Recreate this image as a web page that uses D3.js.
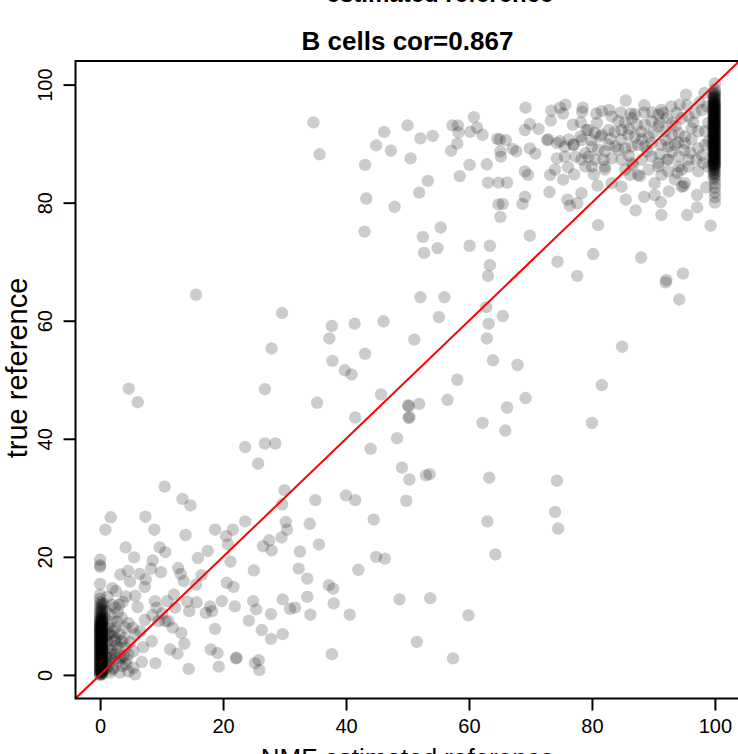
<!DOCTYPE html>
<html>
<head>
<meta charset="utf-8">
<script src="https://cdn.jsdelivr.net/npm/d3@7"></script>
<style>
  body { margin: 0; background: #fff; }
  svg { display: block; font-family: "Liberation Sans", Arial, Helvetica, sans-serif; }
</style>
</head>
<body>
<div id="chart"></div>
<script>
// tick labels
const xTicks = [0, 20, 40, 60, 80, 100];
const yTicks = [0, 20, 40, 60, 80, 100];

// samples where NMF estimated 0 (true value on y)
const zeroColumnY = [0, 0.1, 0.25, 0.4, 0.55, 0.7, 0.85, 1.0, 1.15, 1.3, 1.45, 1.6, 1.75, 1.9, 2.05, 2.2,
  2.35, 2.5, 2.65, 2.8, 2.95, 3.1, 3.25, 3.4, 3.55, 3.7, 3.85, 4.0, 4.15, 4.3, 4.45, 4.6, 4.75, 4.9,
  5.05, 5.2, 5.35, 5.5, 5.65, 5.8, 5.95, 6.1, 6.25, 6.4, 6.55, 6.7, 6.85, 7.0, 7.15, 7.3, 7.45, 7.6,
  7.75, 7.9, 8.05, 8.2, 8.35, 8.5, 8.7, 8.9, 9.1, 9.3, 9.5, 9.8, 10.1, 10.5, 10.9, 11.3, 11.8, 12.3,
  12.9, 13.6, 15.4, 18.3, 18.6, 19.5];
// estimated just above 0
const nearZeroColumnY = [0.05, 0.18, 0.32, 0.48, 0.62, 0.78, 0.92, 1.08, 1.22, 1.38, 1.52, 1.68, 1.82,
  1.98, 2.12, 2.28, 2.42, 2.58, 2.72, 2.88, 3.02, 3.18, 3.32, 3.48, 3.62, 3.78, 3.92, 4.08, 4.22, 4.38,
  4.52, 4.68, 4.82, 4.98, 5.12, 5.28, 5.42, 5.58, 5.72, 5.88, 6.02, 6.18, 6.32, 6.48, 6.62, 6.78, 6.92,
  7.08, 7.22, 7.38, 7.52, 7.68, 7.82, 7.98, 8.12, 8.28, 8.42, 8.6, 8.8, 9.0, 9.2, 9.4, 9.65, 9.95, 10.3,
  10.7, 11.1, 11.6, 12.1];

// samples where NMF estimated 100
const hundredColumnY = [80.0, 80.9, 81.7, 82.5, 83.2, 83.9, 84.5, 85.0, 85.5, 85.9, 86.2, 86.4, 86.6,
  86.8, 87.0, 87.2, 87.4, 87.6, 87.8, 88.0, 88.2, 88.4, 88.6, 88.8, 89.0, 89.2, 89.4, 89.6, 89.8, 90.0,
  90.2, 90.4, 90.6, 90.8, 91.0, 91.2, 91.4, 91.6, 91.8, 92.0, 92.2, 92.4, 92.6, 92.8, 93.0, 93.2, 93.4,
  93.6, 93.8, 94.0, 94.2, 94.4, 94.6, 94.8, 95.0, 95.2, 95.4, 95.6, 95.8, 96.0, 96.2, 96.4, 96.6, 96.8,
  97.0, 97.3, 97.6, 97.9, 98.2, 98.5, 98.8, 99.2];
// estimated just below 100
const nearHundredColumnY = [84.2, 84.8, 85.3, 85.7, 86.1, 86.3, 86.5, 86.7, 86.9, 87.1, 87.3, 87.5,
  87.7, 87.9, 88.1, 88.3, 88.5, 88.7, 88.9, 89.1, 89.3, 89.5, 89.7, 89.9, 90.1, 90.3, 90.5, 90.7, 90.9,
  91.1, 91.3, 91.5, 91.7, 91.9, 92.1, 92.3, 92.5, 92.7, 92.9, 93.1, 93.3, 93.5, 93.7, 93.9, 94.1, 94.3,
  94.5, 94.7, 94.9, 95.1, 95.3, 95.5, 95.7, 95.9, 96.1, 96.3, 96.5, 96.7, 96.9, 97.1, 97.4, 97.7, 98.0,
  98.4];

// low values [estimated, true]
const lowPoints = [[4.66,48.5],[6.12,46.2],[26.8,48.4],[23.6,38.6],[26.8,39.2],[28.5,39.2],[25.7,35.8],
  [10.5,31.9],[13.4,29.8],[14.7,28.7],[30.0,31.3],[29.6,28.9],[30.2,25.9],[30.4,24.6],[29.5,23.3],
  [23.6,26.0],[27.5,22.8],[26.5,21.8],[27.9,21.1],[1.73,26.7],[0.86,24.6],[7.37,26.8],[8.83,24.6],
  [13.9,23.7],[18.7,24.6],[20.5,23.5],[21.6,24.6],[20.8,22.1],[17.5,21.0],[15.9,19.8],[21.2,19.2],
  [25.0,17.7],[4.17,21.6],[5.52,19.9],[9.7,21.6],[10.6,20.8],[8.56,19.4],[8.29,18.0],[9.91,17.4],
  [3.30,17.0],[4.55,17.6],[6.44,17.1],[4.87,15.8],[7.42,16.2],[7.26,14.9],[12.7,18.1],[13.1,17.1],
  [13.6,15.9],[15.6,15.3],[16.5,16.9],[20.6,15.6],[21.7,14.9],[24.9,12.5],[25.4,11.1],[27.8,10.3],
  [29.7,12.8],[30.9,11.2],[24.2,9.2],[26.3,7.6],[27.8,6.1],[29.7,6.9],[21.9,11.6],[19.8,12.5],
  [17.9,11.6],[18.2,10.8],[17.2,10.5],[18.7,7.8],[18.0,4.3],[19.1,3.7],[19.3,1.4],[22.1,2.8],
  [22.2,2.9],[25.2,2.0],[25.8,2.5],[25.9,0.8],[14.4,1.0],[12.6,3.6],[11.4,4.3],[13.7,5.3],[13.2,7.1],
  [11.8,8.0],[11.1,9.1],[12.2,11.4],[12.0,13.6],[14.2,12.4],[15.7,12.3],[14.5,10.8],[10.9,12.5],
  [8.9,12.5],[9.2,11.4],[10.1,10.4],[10.6,9.1],[9.5,9.1],[8.5,10.1],[7.3,9.3],[8.4,5.7],[7.0,4.7],
  [6.8,2.2],[9.0,2.0],[5.7,0.1],[5.4,1.2],[4.2,1.8],[4.6,3.5],[6.5,7.4],[5.7,6.9],[5.3,8.0],[4.6,8.8],
  [4.1,8.0],[3.5,9.7],[2.4,11.4],[2.0,14.7],[2.6,14.2],[4.2,13.3],[5.7,13.4],[6.1,11.5],[3.1,11.9],
  [1.9,11.9],[1.7,10.2],[3.2,6.9],[2.4,5.7],[3.5,5.7],[4.1,4.6],[2.4,3.5],[1.3,2.3],[2.2,1.2],
  [3.2,0.4],[1.6,0.4],[1.3,8.0],[1.3,4.6],[2.4,8.0],[3.0,2.3],[4.6,0.6],[1.1,1.2],[1.1,5.7],[3.0,4.6],
  [5.4,4.0],[1.0,3.0],[2.0,6.5],[2.8,9.0],[3.8,3.2],[1.5,7.0],[0.8,9.5],[2.5,2.8],[4.8,5.5],[3.6,1.5],
  [0.7,6.3],[0.6,0.8],[0.9,2.0],[1.8,2.9],[0.5,4.0],[1.9,4.2],[0.8,5.1],[2.7,4.9],[1.2,6.8],[2.2,7.3],
  [0.6,7.9],[1.8,9.0],[0.9,10.8],[2.9,10.6],[3.7,12.4],[1.2,13.2],[0.6,12.0],[2.0,0.9],[3.4,2.9],
  [4.3,2.6],[3.9,6.2],[0.5,2.6],[1.4,1.5],[2.6,6.1],[1.7,3.5],[0.4,9.0]];

// middle range
const midPoints = [[15.6,64.4],[29.6,61.3],[27.9,55.3],
  [34.7,93.6],[35.7,88.2],[43.1,86.4],[43.3,80.7],[43.0,75.1],[47.9,79.3],[44.9,89.7],[46.2,92.0],
  [47.3,88.8],[50.0,93.1],[50.5,87.5],[52.1,90.9],[54.1,91.3],[53.3,83.7],[51.9,81.7],[57.3,93.1],
  [58.2,93.1],[58.3,91.9],[60.2,92.0],[60.8,94.5],[61.3,92.7],[62.2,91.5],[58.1,90.0],[57.1,88.8],
  [58.5,84.5],[60.1,86.4],[62.9,86.5],[64.6,90.8],[65.0,90.7],[66.0,90.6],[65.1,88.7],[65.2,87.8],
  [67.1,89.1],[63.1,83.4],[64.8,83.4],[66.2,83.4],[64.8,79.7],[65.5,79.8],[65.1,77.6],[55.4,75.8],
  [52.5,74.2],[52.7,71.5],[54.9,72.3],[60.1,72.7],[63.4,72.7],[63.4,69.4],[63.1,67.6],[52.1,64.0],
  [56.0,64.0],[55.1,60.6],[62.8,62.3],[63.2,59.5],[65.5,60.8],[62.9,57.0],[63.9,53.3],[67.9,52.5],
  [51.1,56.8],[46.1,59.9],[41.4,59.5],[37.7,59.1],[37.3,57.0],[37.8,53.2],[39.8,51.6],[40.9,50.9],
  [43.1,54.4],[58.1,50.0],
  [35.3,46.1],[45.7,47.5],[41.5,43.6],[50.2,45.5],[50.3,43.7],[50.1,45.7],[50.2,43.5],[51.9,45.9],
  [56.5,46.6],[66.2,45.3],[62.2,42.7],[65.9,41.4],[44.0,38.3],[48.3,40.1],[49.1,35.1],[50.3,33.1],
  [53.0,33.8],[53.6,34.0],[63.3,33.4],[35.0,29.6],[40.0,30.4],[41.5,29.6],[49.8,29.5],[44.5,26.3],
  [63.0,26.0],[34.1,25.6],[35.6,22.1],[32.5,20.9],[32.3,18.0],[33.7,16.3],[44.9,20.0],[46.3,19.7],
  [42.0,17.8],[64.3,20.4],[37.2,15.2],[37.9,14.6],[33.7,13.2],[38.0,12.1],[34.2,10.2],[40.6,10.2],
  [48.7,12.8],[53.7,13.0],[59.9,10.1],[51.5,5.6],[57.4,2.8],[37.7,3.5],[31.7,11.4],
  [81.6,49.1],[69.2,46.9],[80.0,42.7],[74.3,32.9],[74.0,27.6],[74.5,24.8]];

// high values, scattered part
const highPoints = [[69.2,96.1],[73.4,95.6],[74.8,96.1],[75.7,96.6],[78.5,96.1],[78.4,95.4],[80.7,95.1],
  [82.8,95.7],[85.5,97.3],[84.7,95.3],[86.3,95.1],[88.5,95.3],[89.8,95.3],[91.3,95.7],[92.9,96.3],
  [94.3,96.6],[95.3,98.3],[98.3,98.6],[100,100.2],[69.1,92.3],[69.9,93.3],[71.3,92.5],[73.3,93.9],
  [75.3,95.1],[76.9,93.2],[78.2,93.6],[79.4,92.3],[80.8,93.5],[81.3,91.2],[82.7,92.3],[83.7,92.0],
  [84.8,92.3],[72.7,90.6],[74.3,90.1],[75.6,89.5],[77.0,89.8],[78.3,90.6],[79.9,90.6],[69.9,89.2],
  [70.8,88.3],[67.7,88.7],[69.1,85.3],[69.6,84.7],[73.2,84.7],[74.0,85.6],[75.3,83.9],[76.1,86.0],
  [77.1,84.8],[73.1,81.8],[69.1,81.0],[68.7,79.8],[76.0,80.5],[76.4,79.5],[77.6,79.9],[78.3,81.6],
  [80.3,84.8],[80.9,82.9],[82.1,85.6],[83.2,83.3],[84.8,82.7],[85.5,80.5],[86.2,84.7],[87.1,78.7],
  [87.8,84.5],[88.5,81.0],[90.2,81.3],[90.2,83.3],[91.2,80.1],[91.3,77.9],[92.5,81.9],[95.5,77.9],
  [97.1,79.2],[97.1,81.3],[98.6,82.6],[99.3,76.1],[94.6,82.7],[93.9,85.0],[94.1,86.1],[97.3,85.3],
  [81.0,76.2],[69.9,74.4],[74.4,70.0],[80.2,71.3],[77.6,67.6],[88.0,70.7],[94.8,68.0],[92.1,66.9],
  [92.0,66.5],[94.2,63.6],[84.9,55.6]];

// high values, dense band
const bandPoints = [[81.6,95.5],[83.2,94.6],[84.3,93.8],[85.4,93.5],[86.5,94.3],[87.3,93.2],[88.6,93.2],
  [89.7,93.8],[90.8,94.9],[91.6,95.2],[92.2,94.3],[93.0,93.5],[93.8,95.2],[94.6,94.3],[95.7,94.6],
  [96.8,95.2],[97.9,95.7],[98.7,96.3],[90.8,92.9],[91.9,92.1],[93.0,91.5],[94.1,91.8],[95.1,91.2],
  [96.2,92.6],[97.3,92.1],[98.4,92.1],[98.9,93.5],[89.2,91.2],[88.1,90.7],[87.0,91.2],[85.9,91.5],
  [84.8,90.7],[83.8,89.5],[82.7,89.8],[81.6,91.5],[80.5,91.8],[79.1,92.3],[78.1,91.2],[77.0,89.8],
  [76.2,90.7],[74.8,90.4],[80.0,89.5],[81.0,89.0],[82.1,88.7],[84.3,89.0],[85.4,89.2],[86.5,89.5],
  [87.5,89.8],[88.6,89.5],[89.7,90.1],[91.3,89.8],[92.4,89.5],[93.5,89.8],[95.1,90.1],[96.2,90.7],
  [97.3,89.2],[98.4,89.8],[99.0,90.4],[79.4,87.8],[80.5,87.3],[78.3,87.3],[77.3,87.8],[81.9,87.3],
  [83.2,87.5],[84.8,87.3],[86.5,86.7],[88.1,87.3],[89.7,87.8],[90.8,86.7],[92.4,87.3],[94.1,87.8],
  [95.7,87.3],[97.0,87.3],[98.1,86.7],[98.9,86.1],[90.8,86.1],[89.2,85.6],[92.4,85.3],[94.6,85.6],
  [95.7,86.1],[78.9,88.4],[75.6,87.8],[74.3,87.5],[72.9,90.7],[80.0,86.1],[78.9,86.1],[82.1,86.1],
  [85.4,85.6],[86.7,86.4],[87.5,84.7],[91.3,84.7],[95.1,83.3],[92.2,87.3],[93.5,83.9],[94.9,82.8],
  [86.0,92.5],[88.0,92.0],[90.0,91.9],[92.0,90.6],[94.0,90.2],[96.0,88.5],[97.9,88.0],[89.0,88.7],
  [91.0,88.2],[93.0,88.6],[95.0,88.9],[96.5,93.6],[93.6,93.0],[91.0,93.6],[87.0,95.0],[88.5,96.5],
  [97.5,97.0],[95.5,96.5],[83.0,90.8],[86.0,88.0]];

const points = [
  ...zeroColumnY.map(v => [0, v]),
  ...nearZeroColumnY.map(v => [0.3, v]),
  ...lowPoints,
  ...midPoints,
  ...highPoints,
  ...bandPoints,
  ...hundredColumnY.map(v => [100, v]),
  ...nearHundredColumnY.map(v => [99.8, v])
];

const width = 738;
const height = 754;
const plot = {left: 75.5, right: 739.5, top: 61, bottom: 698.5};

const x = d3.scaleLinear().domain([-4, 104]).range([plot.left, plot.right]);
const y = d3.scaleLinear().domain([-4, 104]).range([plot.bottom, plot.top]);

const svg = d3.select("#chart")
  .append("svg")
  .attr("width", width)
  .attr("height", height);

svg.append("clipPath")
  .attr("id", "clip")
  .append("rect")
  .attr("x", plot.left)
  .attr("y", plot.top)
  .attr("width", plot.right - plot.left)
  .attr("height", plot.bottom - plot.top);

// points
svg.append("g")
  .attr("clip-path", "url(#clip)")
  .selectAll("circle")
  .data(points)
  .join("circle")
  .attr("cx", d => x(d[0]))
  .attr("cy", d => y(d[1]))
  .attr("r", 6.2)
  .attr("fill", "#000")
  .attr("fill-opacity", 0.2);

// identity line
svg.append("line")
  .attr("clip-path", "url(#clip)")
  .attr("x1", x(-4)).attr("y1", y(-4))
  .attr("x2", x(104)).attr("y2", y(104))
  .attr("stroke", "#ff0000")
  .attr("stroke-width", 2);

// box
svg.append("rect")
  .attr("x", plot.left)
  .attr("y", plot.top)
  .attr("width", plot.right - plot.left)
  .attr("height", plot.bottom - plot.top)
  .attr("fill", "none")
  .attr("stroke", "#000")
  .attr("stroke-width", 2);

// x axis
const xAxis = svg.append("g")
  .attr("transform", `translate(0,${plot.bottom})`)
  .call(d3.axisBottom(x).tickValues(xTicks).tickSize(12).tickPadding(8).tickFormat(d3.format("d")));
xAxis.select(".domain").remove();
xAxis.selectAll("line").attr("stroke-width", 2);
xAxis.selectAll("text")
  .style("font-size", "20px")
  .style("font-family", "Liberation Sans, Arial, sans-serif")
  .attr("fill", "#000");

// y axis, labels parallel to axis
const yAxis = svg.append("g")
  .attr("transform", `translate(${plot.left},0)`)
  .call(d3.axisLeft(y).tickValues(yTicks).tickSize(12).tickFormat(d3.format("d")));
yAxis.select(".domain").remove();
yAxis.selectAll("line").attr("stroke-width", 2);
yAxis.selectAll("text")
  .attr("x", null)
  .attr("dy", null)
  .attr("text-anchor", "middle")
  .attr("transform", "translate(-24,0) rotate(-90)")
  .style("font-size", "20px")
  .style("font-family", "Liberation Sans, Arial, sans-serif")
  .attr("fill", "#000");

// titles (outer title and x label are cropped in the original figure)
svg.append("text")
  .attr("x", 440)
  .attr("y", 2)
  .attr("text-anchor", "middle")
  .style("font-size", "24px")
  .style("font-weight", "bold")
  .text("estimated reference");

svg.append("text")
  .attr("x", (plot.left + plot.right) / 2)
  .attr("y", 50)
  .attr("text-anchor", "middle")
  .style("font-size", "26px")
  .style("font-weight", "bold")
  .text("B cells cor=0.867");

svg.append("text")
  .attr("x", (plot.left + plot.right) / 2)
  .attr("y", 767)
  .attr("text-anchor", "middle")
  .style("font-size", "26px")
  .text("NMF estimated reference");

svg.append("text")
  .attr("transform", "translate(27,368) rotate(-90)")
  .attr("text-anchor", "middle")
  .style("font-size", "29px")
  .text("true reference");
</script>
</body>
</html>
